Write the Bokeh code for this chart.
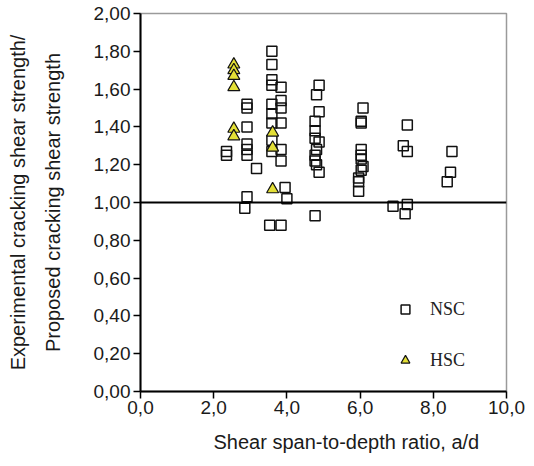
from bokeh.plotting import figure
from bokeh.models import (Range1d, FixedTicker, Span, Title, Legend, LegendItem,
                          LinearAxis, CustomJSTickFormatter)
from bokeh.embed import file_html
from bokeh.resources import INLINE

# ---- data ----
nsc_x = [2.35, 2.35,
         2.91, 2.91, 2.91, 2.91, 2.91, 2.91, 2.91, 2.85, 3.17,
         3.59, 3.59, 3.59, 3.59, 3.59, 3.59, 3.59, 3.59, 3.59, 3.53,
         3.84, 3.84, 3.84, 3.84, 3.84, 3.84, 3.84, 3.95, 4.00,
         4.88, 4.88, 4.88, 4.88, 4.81, 4.81, 4.81,
         4.77, 4.77, 4.77, 4.77, 4.77, 4.77,
         6.08, 6.08, 6.03, 6.03, 6.03, 6.03, 6.03, 6.03, 5.96, 5.96, 5.96,
         6.90, 7.29, 7.29, 7.29, 7.18, 7.23,
         8.51, 8.47, 8.38]
nsc_y = [1.27, 1.25,
         1.52, 1.50, 1.40, 1.31, 1.28, 1.25, 1.03, 0.97, 1.18,
         1.80, 1.73, 1.65, 1.62, 1.52, 1.47, 1.42, 1.33, 1.27, 0.88,
         1.61, 1.54, 1.50, 1.42, 1.28, 1.22, 0.88, 1.08, 1.02,
         1.62, 1.48, 1.32, 1.16, 1.57, 1.28, 1.20,
         1.43, 1.38, 1.34, 1.25, 1.22, 0.93,
         1.50, 1.19, 1.43, 1.42, 1.28, 1.25, 1.23, 1.17, 1.13, 1.11, 1.06,
         0.98, 1.41, 1.27, 0.99, 1.30, 0.94,
         1.27, 1.16, 1.11]

hsc_x = [2.55, 2.55, 2.55, 2.55, 2.55, 2.55, 3.61, 3.61, 3.61]
hsc_y = [1.73, 1.70, 1.67, 1.61, 1.39, 1.35, 1.37, 1.29, 1.07]

x_ticks = [0, 2, 4, 6, 8, 10]
y_ticks = [0.0, 0.2, 0.4, 0.6, 0.8, 1.0, 1.2, 1.4, 1.6, 1.8, 2.0]
reference_ratio = 1.0
series_labels = ["NSC", "HSC"]
x_title = "Shear span-to-depth ratio, a/d"
y_title_1 = "Experimental cracking shear strength/"
y_title_2 = "Proposed cracking shear strength"

SANS = "Liberation Sans"
TXT = "#1a1a1a"

p = figure(width=534, height=466, output_backend="svg", toolbar_location=None,
           x_range=Range1d(0, 10), y_range=Range1d(0, 2),
           min_border_left=140, min_border_right=28, min_border_top=13,
           min_border_bottom=75)
p.background_fill_color = "white"
p.border_fill_color = "white"
p.outline_line_color = "#9a9a9a"
p.outline_line_width = 1.5
p.xgrid.visible = False
p.ygrid.visible = False

# x axis
xa = p.xaxis[0]
xa.ticker = FixedTicker(ticks=x_ticks)
xa.formatter = CustomJSTickFormatter(code="return tick.toFixed(1).replace('.', ',')")
# y axis
ya = p.yaxis[0]
ya.ticker = FixedTicker(ticks=y_ticks)
ya.formatter = CustomJSTickFormatter(code="return tick.toFixed(2).replace('.', ',')")
ya.axis_label = y_title_2
ya.axis_label_standoff = 27

for ax in (xa, ya):
    ax.axis_line_color = "black"
    ax.axis_line_width = 2
    ax.major_tick_line_color = "black"
    ax.major_tick_line_width = 1.5
    ax.major_tick_in = 0
    ax.major_tick_out = 7
    ax.minor_tick_line_color = None
    ax.major_label_text_font = SANS
    ax.major_label_text_font_size = "19px"
    ax.major_label_text_color = TXT
    ax.axis_label_text_font = SANS
    ax.axis_label_text_font_size = "20px"
    ax.axis_label_text_font_style = "normal"
    ax.axis_label_text_color = TXT
xa.major_label_standoff = 2
ya.major_label_standoff = 3

# outer y-label line
ya2 = LinearAxis(ticker=FixedTicker(ticks=[]), axis_label=y_title_1)
ya2.axis_line_color = None
ya2.major_tick_in = 0
ya2.major_tick_out = 0
ya2.minor_tick_line_color = None
ya2.major_label_text_font_size = "0px"
ya2.major_label_standoff = 0
ya2.axis_label_standoff = 10
ya2.axis_label_text_font = SANS
ya2.axis_label_text_font_size = "20px"
ya2.axis_label_text_font_style = "normal"
ya2.axis_label_text_color = TXT
p.add_layout(ya2, "left")

# x title, offset to the right like the reference
xt = Title(text=x_title, align="left", offset=73, vertical_align="bottom",
           standoff=24, text_font=SANS, text_font_size="20px",
           text_font_style="normal", text_color=TXT)
p.add_layout(xt, "below")

# reference line at ratio 1.0
p.add_layout(Span(location=reference_ratio, dimension="width",
                  line_color="black", line_width=2))

r_nsc = p.scatter(nsc_x, nsc_y, marker="square", size=10, fill_color=None,
                  line_color="#111111", line_width=1.5)
r_hsc = p.scatter(hsc_x, hsc_y, marker="triangle", size=12, fill_color="#e3df36",
                  line_color="#111111", line_width=1.2)

legend = Legend(items=[LegendItem(label=series_labels[0], renderers=[r_nsc]),
                       LegendItem(label=series_labels[1], renderers=[r_hsc])],
                location=(253, 12), orientation="vertical",
                glyph_width=24, glyph_height=22, label_height=38,
                label_standoff=13, spacing=13, padding=0, margin=0,
                label_text_font="Liberation Serif", label_text_font_size="18px",
                label_text_color="#222222", label_text_baseline="middle",
                background_fill_alpha=0, border_line_alpha=0)
p.add_layout(legend)

open("out.html", "w").write(file_html(p, INLINE))
